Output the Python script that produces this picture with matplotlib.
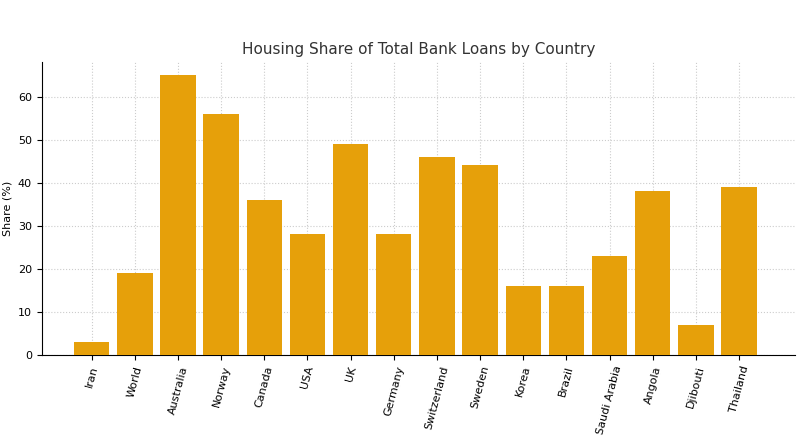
import matplotlib.pyplot as plt

countries = ['Iran', 'World', 'Australia', 'Norway', 'Canada', 'USA', 'UK', 'Germany',
             'Switzerland', 'Sweden', 'Korea', 'Brazil', 'Saudi Arabia', 'Angola',
             'Djibouti', 'Thailand']
share = [3, 19, 65, 56, 36, 28, 49, 28, 46, 44, 16, 16, 23, 38, 7, 39]

fig = plt.figure(figsize=(8, 4.47), dpi=100)
ax = fig.add_axes([0.052, 0.206, 0.942, 0.655])

ax.bar(countries, share, color='#E6A00A', width=0.82, zorder=3)
ax.set_title('Housing Share of Total Bank Loans by Country', fontsize=11, color='#333333')
ax.set_ylabel('Share (%)', fontsize=8)
ax.set_ylim(0, 68)
ax.set_xlim(-1.16, 16.3)
ax.grid(True, linestyle=':', color='#cccccc', linewidth=0.8, zorder=0)
ax.tick_params(labelsize=8)
plt.xticks(rotation=75)
ax.spines['top'].set_visible(False)
ax.spines['right'].set_visible(False)

plt.savefig('out.png', dpi=100)
